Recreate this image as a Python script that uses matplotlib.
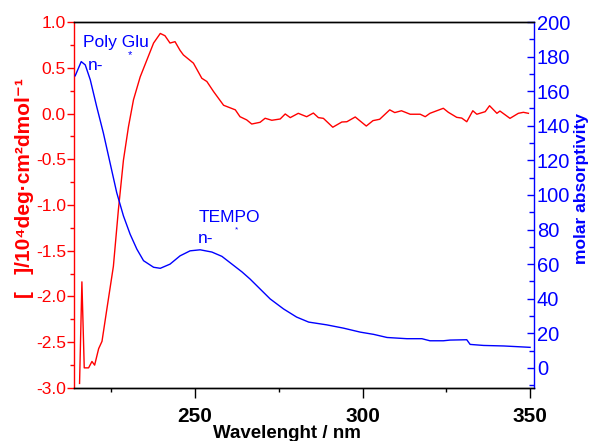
import matplotlib
matplotlib.use('Agg')
import matplotlib.pyplot as plt
from matplotlib.ticker import MultipleLocator, FormatStrFormatter

plt.rcParams['font.family'] = ['Liberation Sans', 'DejaVu Sans']
plt.rcParams['axes.unicode_minus'] = False

# CD spectrum, left axis  ([theta] / 10^4 deg cm2 dmol-1)
cd_nm = [215.5, 216.2, 216.9, 218.2, 219.2, 220.0, 221.2, 222.2, 223.6, 225.6,
         227.1, 228.6, 230.1, 231.6, 233.6, 235.6, 237.6, 239.6, 241.0, 242.5,
         244.0, 245.5, 246.5, 249.5, 252.0, 253.5, 255.5, 258.5, 262.0, 263.4,
         265.4, 266.9, 269.4, 270.9, 272.9, 275.4, 276.9, 278.4, 280.8, 283.3,
         285.3, 286.8, 288.3, 291.1, 293.8, 295.3, 297.8, 301.1, 303.1, 305.1,
         308.1, 309.6, 311.6, 314.2, 317.2, 318.7, 320.1, 324.1, 325.6, 328.1,
         329.6, 331.1, 332.9, 334.1, 336.6, 337.9, 340.1, 341.0, 344.0, 346.5,
         348.0, 349.5]
cd_val = [-2.95, -1.84, -2.78, -2.78, -2.71, -2.75, -2.57, -2.49, -2.15, -1.67,
          -1.05, -0.51, -0.145, 0.15, 0.40, 0.585, 0.77, 0.875, 0.85, 0.77,
          0.785, 0.69, 0.64, 0.55, 0.385, 0.35, 0.24, 0.09, 0.04, -0.035,
          -0.07, -0.115, -0.096, -0.052, -0.074, -0.06, -0.005, -0.045, 0.002, -0.035,
          0.005, -0.045, -0.053, -0.15, -0.093, -0.09, -0.038, -0.137, -0.078, -0.063,
          0.04, 0.01, 0.03, -0.008, -0.008, -0.035, 0.002, 0.057, 0.013, -0.042,
          -0.05, -0.09, 0.03, -0.008, 0.02, 0.085, 0.002, 0.027, -0.053, 0.002,
          0.013, 0.002]

# absorption spectrum, right axis (molar absorptivity)
abs_nm = [214.2, 216.0, 217.2, 218.7, 220.6, 222.6, 224.6, 226.6, 228.6, 230.6,
          232.6, 234.6, 237.6, 239.6, 242.5, 245.5, 248.5, 251.5, 255.0, 258.0,
          261.0, 264.0, 266.4, 272.4, 276.4, 280.3, 283.9, 289.3, 294.3, 299.3,
          303.3, 307.3, 313.2, 317.7, 320.1, 324.1, 326.1, 331.1, 332.1, 336.1,
          342.1, 346.1, 350.0]
abs_val = [168.9, 177.1, 175.2, 166.6, 151.2, 135.9, 118.6, 101.3, 87.9, 77.3,
           68.7, 62.0, 58.2, 57.6, 60.0, 64.8, 67.7, 68.3, 67.0, 64.5,
           60.0, 55.5, 51.4, 39.9, 34.1, 29.4, 26.5, 24.9, 23.0, 20.7,
           19.4, 17.6, 16.9, 16.9, 15.7, 15.7, 16.1, 16.3, 13.6, 13.0,
           12.7, 12.3, 11.9]

RED = '#ff0000'
BLUE = '#0000ff'

fig = plt.figure(figsize=(5.92, 4.41), dpi=100)
ax = fig.add_axes([0.1242, 0.1202, 0.778, 0.8299])
ax2 = ax.twinx()

ax.plot(cd_nm, cd_val, color=RED, lw=1.0, zorder=3)
ax2.plot(abs_nm, abs_val, color=BLUE, lw=1.0)

ax.set_xlim(213.7, 351.2)
ax.set_ylim(-3.0, 1.0)
ax2.set_ylim(-11.6, 200)

# left axis
ax.yaxis.set_major_locator(MultipleLocator(0.5))
ax.yaxis.set_minor_locator(MultipleLocator(0.25))
ax.yaxis.set_major_formatter(FormatStrFormatter('%.1f'))
ax.tick_params(axis='y', which='major', direction='out', length=5, width=1,
               color=RED, labelcolor=RED, labelsize=12.5, pad=0.5)
ax.tick_params(axis='y', which='minor', direction='out', length=3, width=1, color=RED)

# bottom axis
ax.xaxis.set_major_locator(MultipleLocator(50))
ax.xaxis.set_minor_locator(MultipleLocator(25))
ax.tick_params(axis='x', which='major', direction='out', length=7, width=1,
               labelsize=15, pad=7)
ax.tick_params(axis='x', which='minor', direction='out', length=3, width=1)
for lab in ax.get_xticklabels():
    lab.set_fontweight('bold')

# right axis
ax2.yaxis.set_major_locator(MultipleLocator(20))
ax2.yaxis.set_minor_locator(MultipleLocator(10))
ax2.tick_params(axis='y', which='major', direction='in', length=5, width=1,
                color=BLUE, labelcolor=BLUE, labelsize=14.5, pad=2)
ax2.tick_params(axis='y', which='minor', direction='in', length=3.5, width=1, color=BLUE)

ax.spines['left'].set_color(RED)
ax.spines['right'].set_visible(False)
ax2.spines['left'].set_visible(False)
ax2.spines['right'].set_color(BLUE)
for sp in ax.spines.values():
    sp.set_linewidth(1.0)
for sp in ax2.spines.values():
    sp.set_linewidth(1.0)

ax.set_xlabel('Wavelenght / nm', fontsize=13.5, fontweight='bold')
ax.xaxis.set_label_coords(0.464, -0.10)
ax.set_ylabel('[   ]/10\u2074deg\u00b7cm\u00b2dmol\u207b\u00b9', fontsize=15,
              fontweight='bold', color=RED)
ax.yaxis.set_label_coords(-0.086, 0.546)
ax2.set_ylabel('molar absorptivity', fontsize=12.5, fontweight='bold', color=BLUE)
ax2.yaxis.set_label_coords(1.087, 0.546)

# band labels (the pi glyph is absent in the original)
ax.text(216.6, 0.727, 'Poly Glu', color=BLUE, fontsize=12.5, va='baseline')
ax.text(218.1, 0.475, 'n-', color=BLUE, fontsize=12.5, va='baseline')
ax.text(230.6, 0.64, '*', color=BLUE, fontsize=8, ha='center', va='center')
ax.text(250.9, -1.186, 'TEMPO', color=BLUE, fontsize=12.5, va='baseline')
ax.text(250.9, -1.415, 'n-', color=BLUE, fontsize=12.5, va='baseline')
ax.text(262.5, -1.27, '*', color=BLUE, fontsize=6, ha='center', va='center')

fig.savefig('out.png', dpi=100)
